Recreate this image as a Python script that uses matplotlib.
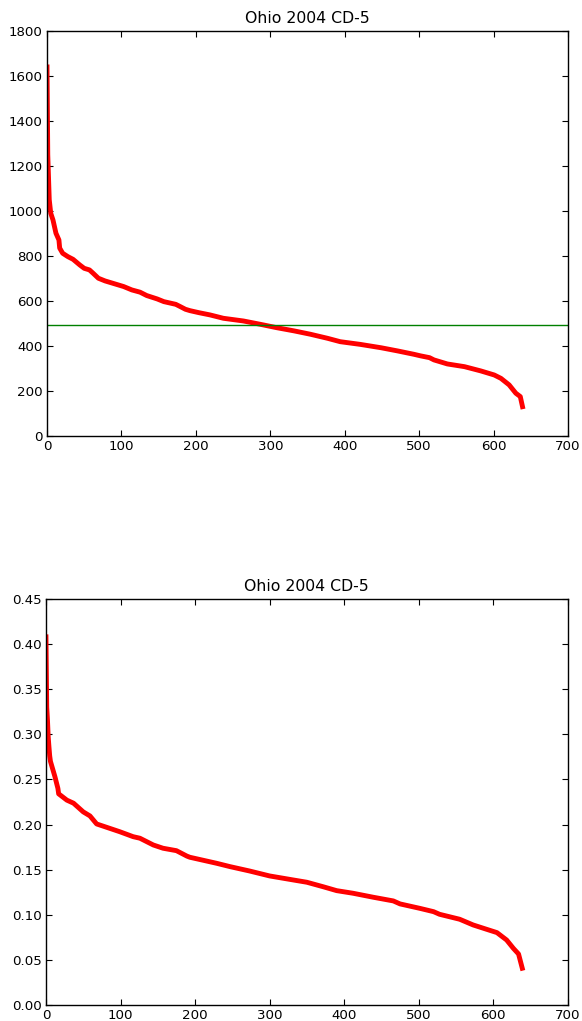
import matplotlib
matplotlib.use("Agg")
import matplotlib.pyplot as plt

title = "Ohio 2004 CD-5"

top_x = [0, 1, 2, 3, 5, 8, 12, 16, 17, 21, 28, 35, 44, 50, 57, 62, 69, 78, 89, 103,
         114, 125, 134, 148, 157, 173, 179, 186, 192, 204, 219, 237, 264, 287, 309,
         332, 354, 377, 394, 421, 449, 471, 493, 502, 514, 520, 538, 561, 583, 601,
         610, 621, 630, 636, 639]
top_y = [1640, 1250, 1150, 1050, 990, 960, 901, 871, 835, 812, 797, 785, 760, 745,
         738, 723, 701, 689, 678, 664, 649, 639, 624, 609, 597, 585, 575, 563, 557,
         548, 538, 523, 511, 496, 481, 467, 452, 434, 419, 407, 392, 378, 363, 356,
         348, 338, 320, 308, 289, 271, 256, 227, 190, 175, 130]
ref_level = 493

bot_x = [0, 1, 2, 3, 4, 5, 6, 12, 16, 17, 28, 37, 50, 59, 68, 81, 99, 117, 126, 144,
         157, 175, 189, 193, 229, 247, 273, 300, 332, 350, 372, 390, 412, 439, 466,
         475, 502, 520, 528, 555, 573, 591, 605, 618, 627, 634, 639]
bot_y = [0.408, 0.33, 0.316, 0.297, 0.286, 0.276, 0.270, 0.253, 0.240, 0.234, 0.227,
         0.2236, 0.214, 0.2095, 0.2006, 0.197, 0.192, 0.1865, 0.1848, 0.1773, 0.1737,
         0.171, 0.165, 0.1637, 0.157, 0.1533, 0.1485, 0.143, 0.1385, 0.136, 0.131,
         0.1267, 0.1238, 0.1194, 0.1153, 0.112, 0.107, 0.1034, 0.1005, 0.095, 0.0887,
         0.0839, 0.0802, 0.072, 0.0628, 0.0565, 0.0407]

fig = plt.figure(figsize=(5.82, 10.21), dpi=100)
ax1 = fig.add_axes([0.0808, 0.573, 0.895, 0.3967])
ax2 = fig.add_axes([0.0790, 0.0157, 0.8965, 0.3977])

for ax in (ax1, ax2):
    ax.tick_params(direction="in", top=True, right=True, labelsize=9.6,
                   length=4, width=0.8, pad=3, colors="black")
    for s in ax.spines.values():
        s.set_linewidth(1.0)
    ax.set_xlim(0, 700)
    ax.set_title(title, fontsize=11.3, pad=6)

ax1.plot(top_x, top_y, color="red", lw=3.5, solid_joinstyle="round")
ax1.axhline(ref_level, color="green", lw=1)
ax1.set_ylim(0, 1800)
ax1.set_yticks(range(0, 1801, 200))
ax1.set_xticks(range(0, 701, 100))

ax2.plot(bot_x, bot_y, color="red", lw=3.5, solid_joinstyle="round")
ax2.set_ylim(0, 0.45)
ax2.set_yticks([i * 0.05 for i in range(10)])
ax2.set_yticklabels([f"{i*0.05:.2f}" for i in range(10)])
ax2.set_xticks(range(0, 701, 100))

fig.savefig("out.png", dpi=100)
